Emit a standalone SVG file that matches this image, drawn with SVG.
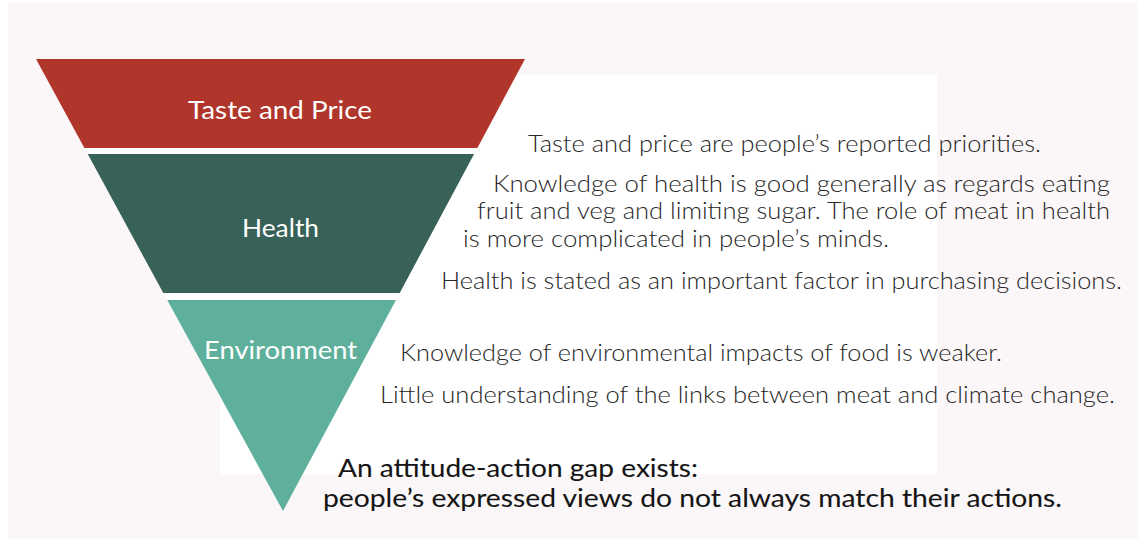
<svg xmlns="http://www.w3.org/2000/svg" width="1138" height="539" viewBox="0 0 1138 539">
  <style>
    .label { font-family: Lato, "Open Sans", sans-serif; font-size: 25px; fill: #ffffff; text-anchor: middle; }
    .body { font-family: Lato, "Open Sans", sans-serif; font-size: 24px; font-weight: 300; fill: #262626; }
    .gap { font-family: Lato, "Open Sans", sans-serif; font-size: 25px; fill: #151515; stroke: #151515; stroke-width: 0.1; }
  </style>

  <!-- page -->
  <rect x="0" y="0" width="1138" height="539" fill="#ffffff"/>
  <rect x="8" y="2" width="1130" height="537" fill="#fbf7f8"/>
  <rect x="220" y="75" width="717" height="399" fill="#ffffff"/>

  <!-- funnel backing (shows as white bands between tiers) -->
  <polygon points="36,59 525,59 283,511" fill="#ffffff"/>

  <g id="tier-taste-price">
    <polygon points="36,59 525,59 477.4,148 84.4,148" fill="#b0352a"/>
    <text class="label" x="280" y="119" textLength="184" lengthAdjust="spacingAndGlyphs">Taste and Price</text>
  </g>

  <g id="tier-health">
    <polygon points="87.7,154 474.1,154 399.7,293 163.3,293" fill="#386158"/>
    <text class="label" x="280.5" y="237" textLength="77" lengthAdjust="spacingAndGlyphs">Health</text>
  </g>

  <g id="tier-environment">
    <polygon points="167.2,300 396,300 283,511" fill="#5eb09c"/>
    <text class="label" x="280.5" y="359" textLength="153" lengthAdjust="spacingAndGlyphs">Environment</text>
  </g>

  <g id="notes">
    <text class="body" x="528" y="152" textLength="513" lengthAdjust="spacingAndGlyphs">Taste and price are people’s reported priorities.</text>
    <text class="body" x="493" y="192" textLength="617" lengthAdjust="spacingAndGlyphs">Knowledge of health is good generally as regards eating</text>
    <text class="body" x="477" y="218.5" textLength="633" lengthAdjust="spacingAndGlyphs">fruit and veg and limiting sugar. The role of meat in health</text>
    <text class="body" x="463" y="246.5" textLength="426" lengthAdjust="spacingAndGlyphs">is more complicated in people’s minds.</text>
    <text class="body" x="441" y="289" textLength="681" lengthAdjust="spacingAndGlyphs">Health is stated as an important factor in purchasing decisions.</text>
    <text class="body" x="400" y="360.5" textLength="602" lengthAdjust="spacingAndGlyphs">Knowledge of environmental impacts of food is weaker.</text>
    <text class="body" x="380" y="402.5" textLength="735" lengthAdjust="spacingAndGlyphs">Little understanding of the links between meat and climate change.</text>
  </g>

  <g id="summary">
    <text class="gap" x="338" y="476.7" textLength="360" lengthAdjust="spacingAndGlyphs">An attitude-action gap exists:</text>
    <text class="gap" x="323" y="506.7" textLength="739" lengthAdjust="spacingAndGlyphs">people’s expressed views do not always match their actions.</text>
  </g>

  <g id="connectors"/>
</svg>
